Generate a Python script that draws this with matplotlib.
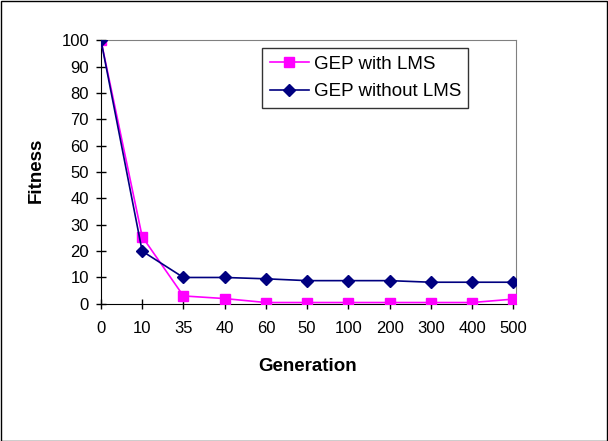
import matplotlib
matplotlib.use("Agg")
import matplotlib.pyplot as plt
from matplotlib.patches import Rectangle

plt.rcParams['font.family'] = ['Liberation Sans', 'DejaVu Sans']

generations = ["0", "10", "35", "40", "60", "50", "100", "200", "300", "400", "500"]
with_lms = [100, 25.5, 3, 2, 0.5, 0.5, 0.5, 0.5, 0.5, 0.5, 1.8]
without_lms = [100, 20, 10, 10, 9.5, 8.8, 8.8, 8.8, 8.2, 8.2, 8.2]
yticks = list(range(0, 101, 10))

fig = plt.figure(figsize=(6.08, 4.41), dpi=100)
fig.patches.append(Rectangle((0.001, 0.001), 0.997, 0.997, transform=fig.transFigure,
                             fill=False, edgecolor='black', linewidth=1))
ax = fig.add_axes([0.166, 0.311, 0.683, 0.598])
x = list(range(len(generations)))
ax.plot(x, with_lms, color='#ff00ff', marker='s', markersize=6.5, linewidth=1.2, label='GEP with LMS', zorder=3)
ax.plot(x, without_lms, color='#000080', marker='D', markersize=6, linewidth=1.2, label='GEP without LMS', zorder=4)

ax.set_xlim(0, 10.07)
ax.set_ylim(0, 100)
ax.set_xticks(x)
ax.set_xticklabels(generations)
ax.set_yticks(yticks)
ax.tick_params(axis='both', labelsize=12, length=7, width=1, color='black', direction='inout')
ax.tick_params(axis='x', pad=9)
ax.tick_params(axis='y', pad=5)
for s in ['top', 'right']:
    ax.spines[s].set_color('#808080')
for s in ['left', 'bottom']:
    ax.spines[s].set_color('black')
ax.set_xlabel('Generation', fontsize=13.5, fontweight='bold')
ax.set_ylabel('Fitness', fontsize=13.5, fontweight='bold')
ax.xaxis.set_label_coords((308 - 101) / 415, -(367 - 304) / 264)
ax.yaxis.set_label_coords(-(101 - 36) / 415, (304 - 170) / 264)
ax.xaxis.label.set_va('center')
ax.yaxis.label.set_va('center')
leg = ax.legend(loc='upper left', bbox_to_anchor=(0.388, 0.97), fontsize=13.5, frameon=True,
                fancybox=False, edgecolor='black', handlelength=2.1, handletextpad=0.25,
                borderpad=0.4, borderaxespad=0, labelspacing=0.55)
leg.get_frame().set_linewidth(1)
fig.savefig('out.png', dpi=100)
